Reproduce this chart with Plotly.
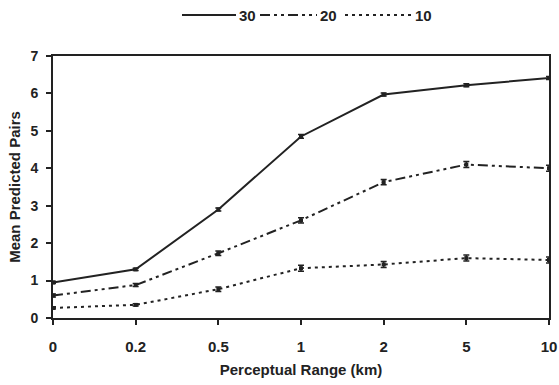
import plotly.graph_objects as go

categories = ["0", "0.2", "0.5", "1", "2", "5", "10"]
series_names = ["30", "20", "10"]
s30 = [0.95, 1.30, 2.90, 4.85, 5.97, 6.22, 6.41]
s20 = [0.60, 0.88, 1.73, 2.61, 3.63, 4.10, 4.00]
s10 = [0.27, 0.35, 0.77, 1.33, 1.43, 1.60, 1.55]
e30 = [0.03, 0.03, 0.04, 0.05, 0.04, 0.04, 0.04]
e20 = [0.04, 0.04, 0.06, 0.07, 0.07, 0.08, 0.08]
e10 = [0.03, 0.03, 0.06, 0.08, 0.08, 0.08, 0.08]

xpos = list(range(len(categories)))
ink = "#222222"
fam = "Liberation Sans, Arial, sans-serif"
xfont = dict(family=fam, size=15, color=ink, weight="bold")
yfont = dict(family=fam, size=14, color=ink, weight="bold")
titlefont = dict(family=fam, size=15, color=ink, weight="bold")

W, H = 559, 385
L, R, T, B = 53, 10, 56, 67
pw, ph = W - L - R, H - T - B

dashes = ["solid", "10px,4px,3px,4px,3px,4px", "3px,4px"]
fig = go.Figure()
for name, ys, es, dash in zip(series_names, [s30, s20, s10], [e30, e20, e10], dashes):
    fig.add_trace(go.Scatter(
        x=xpos, y=ys, name=name, mode="lines+markers",
        line=dict(color=ink, width=2, dash=dash),
        marker=dict(symbol="square", size=4, color=ink),
        error_y=dict(type="data", array=es, visible=True, color=ink, thickness=1.5, width=3),
        showlegend=False,
    ))

# custom legend (line sample + label), placed in pixel terms above the plot
def px_x(p):
    return (p - L) / pw

def px_y(p):
    return (H - B - p) / ph

legend_spans = [(182, 236), (260, 317), (345, 412)]
ly = 15
for name, dash, (x0, x1) in zip(series_names, dashes, legend_spans):
    fig.add_shape(type="line", xref="paper", yref="paper",
                  x0=px_x(x0), x1=px_x(x1), y0=px_y(ly), y1=px_y(ly),
                  line=dict(color=ink, width=2, dash=dash))
    fig.add_annotation(xref="paper", yref="paper", x=px_x(x1 + 1), y=px_y(ly),
                       text=name, showarrow=False, xanchor="left", yanchor="middle",
                       font=dict(family=fam, size=15, color=ink, weight="bold"))

fig.update_layout(
    width=W, height=H,
    margin=dict(l=L, r=R, t=T, b=B),
    paper_bgcolor="white", plot_bgcolor="white",
    font=xfont,
    showlegend=False,
    xaxis=dict(range=[0, 6], tickvals=xpos, ticktext=categories, automargin=False,
               showgrid=False, zeroline=False, showline=True, linecolor=ink, linewidth=2,
               mirror=True, ticks="outside", ticklen=5, tickcolor=ink, tickwidth=1.5,
               ticklabelstandoff=9,
               title=dict(text="Perceptual Range (km)", font=titlefont, standoff=10),
               tickfont=xfont),
    yaxis=dict(range=[0, 7], dtick=1, showgrid=False, zeroline=False, showline=True,
               automargin=False,
               linecolor=ink, linewidth=2, mirror=True, ticks="outside", ticklen=5,
               tickcolor=ink, tickwidth=1.5, ticklabelstandoff=5,
               title=dict(text="Mean Predicted Pairs", font=titlefont, standoff=6),
               tickfont=yfont),
)

fig.write_html("out.html")
